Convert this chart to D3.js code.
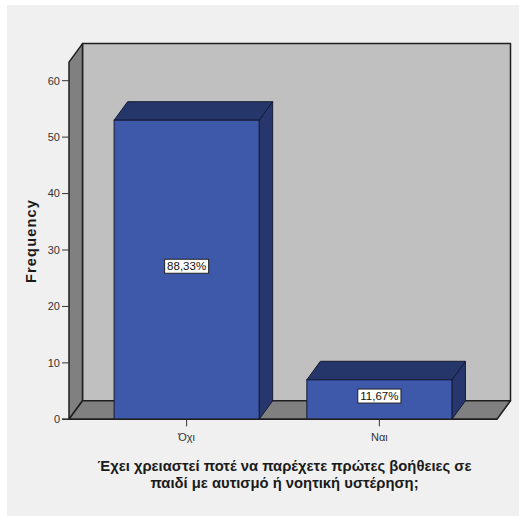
<!DOCTYPE html>
<html>
<head>
<meta charset="utf-8">
<script src="https://cdn.jsdelivr.net/npm/d3@7"></script>
<style>
  html, body { margin: 0; padding: 0; background: #ffffff; }
  svg { display: block; }
</style>
</head>
<body>
<svg id="chart" width="519" height="516"></svg>
<script>
// Frequencies of answers
const categories = ["Όχι", "Ναι"];
const counts = [53, 7];
const percentLabels = ["88,33%", "11,67%"];
const yTicks = [0, 10, 20, 30, 40, 50, 60];
const titleLines = [
  "Έχει χρειαστεί ποτέ να παρέχετε πρώτες βοήθειες σε",
  "παιδί με αυτισμό ή νοητική υστέρηση;"
];
const yLabel = "Frequency";

const svg = d3.select("#chart");
const W = 519, H = 516;

// panel background
svg.append("rect").attr("x", 0).attr("y", 0).attr("width", W).attr("height", H).attr("fill", "#ffffff");
svg.append("rect").attr("x", 7).attr("y", 5).attr("width", W - 7).attr("height", H - 5).attr("fill", "#f0f0f0");

// 3D frame geometry
const frontLeft = 69, frontRight = 497;
const depthX = 13.5, depthY = -18.5;
const wallMax = 63.3;

const y = d3.scaleLinear().domain([0, 60]).range([419.3, 80.7]);
const x = d3.scaleBand().domain(categories).range([frontLeft, frontRight])
  .paddingInner(0.2475).paddingOuter(0.234);

const y0 = y(0), yTop = y(wallMax);
const edge = "#1e1e1e";

// back wall
svg.append("polygon")
  .attr("points", [[frontLeft + depthX, yTop + depthY], [frontRight + depthX, yTop + depthY],
                   [frontRight + depthX, y0 + depthY], [frontLeft + depthX, y0 + depthY]].join(" "))
  .attr("fill", "#c0c0c0").attr("stroke", edge).attr("stroke-width", 1.5).attr("stroke-linejoin", "round");

// left wall
svg.append("polygon")
  .attr("points", [[frontLeft, y0], [frontLeft, yTop], [frontLeft + depthX, yTop + depthY],
                   [frontLeft + depthX, y0 + depthY]].join(" "))
  .attr("fill", "#808080").attr("stroke", edge).attr("stroke-width", 1.5).attr("stroke-linejoin", "round");

// floor
svg.append("polygon")
  .attr("points", [[frontLeft, y0], [frontRight, y0], [frontRight + depthX, y0 + depthY],
                   [frontLeft + depthX, y0 + depthY]].join(" "))
  .attr("fill", "#808080").attr("stroke", edge).attr("stroke-width", 1.5).attr("stroke-linejoin", "round");

// bars
const barFront = "#3e58aa", barTop = "#25366b", barSide = "#27376e";
const barEdge = "#141a33";
const bars = svg.append("g");
categories.forEach((c, i) => {
  const x0 = x(c), x1 = x(c) + x.bandwidth();
  const yv = y(counts[i]);
  const g = bars.append("g");
  // side
  g.append("polygon")
    .attr("points", [[x1, y0], [x1, yv], [x1 + depthX, yv + depthY], [x1 + depthX, y0 + depthY]].join(" "))
    .attr("fill", barSide).attr("stroke", barEdge).attr("stroke-width", 1).attr("stroke-linejoin", "round");
  // top
  g.append("polygon")
    .attr("points", [[x0, yv], [x1, yv], [x1 + depthX, yv + depthY], [x0 + depthX, yv + depthY]].join(" "))
    .attr("fill", barTop).attr("stroke", barEdge).attr("stroke-width", 1).attr("stroke-linejoin", "round");
  // front
  g.append("rect")
    .attr("x", x0).attr("y", yv).attr("width", x.bandwidth()).attr("height", y0 - yv)
    .attr("fill", barFront).attr("stroke", barEdge).attr("stroke-width", 1);
});

// baseline (x axis) extending to the y tick
svg.append("line").attr("x1", 62).attr("x2", frontRight).attr("y1", y0).attr("y2", y0)
  .attr("stroke", edge).attr("stroke-width", 1.5);

// y axis ticks and labels
const yAxis = svg.append("g").attr("font-family", "Liberation Sans, Arial, sans-serif")
  .attr("font-size", 11).attr("fill", "#333");
yTicks.forEach(t => {
  yAxis.append("line").attr("x1", 62).attr("x2", frontLeft).attr("y1", y(t)).attr("y2", y(t))
    .attr("stroke", "#333").attr("stroke-width", 1);
  yAxis.append("text").attr("x", 60).attr("y", y(t)).attr("dy", "0.35em")
    .attr("text-anchor", "end").text(t);
});

// x category ticks and labels
const xAxis = svg.append("g").attr("font-family", "Liberation Sans, Arial, sans-serif")
  .attr("font-size", 11).attr("fill", "#333");
categories.forEach(c => {
  const cx = x(c) + x.bandwidth() / 2;
  xAxis.append("line").attr("x1", cx).attr("x2", cx).attr("y1", y0).attr("y2", y0 + 7)
    .attr("stroke", "#333").attr("stroke-width", 1);
  xAxis.append("text").attr("x", cx).attr("y", y0 + 22).attr("text-anchor", "middle").text(c);
});

// percentage labels
categories.forEach((c, i) => {
  const cx = x(c) + x.bandwidth() / 2;
  const cy = (y(counts[i]) + y0) / 2 - 3.5;
  const g = svg.append("g");
  const txt = g.append("text").attr("x", cx).attr("y", cy).attr("dy", "0.35em")
    .attr("text-anchor", "middle").attr("font-family", "Liberation Sans, Arial, sans-serif")
    .attr("font-size", 11.5).attr("fill", "#111").text(percentLabels[i]);
  const bb = txt.node().getBBox();
  g.insert("rect", "text")
    .attr("x", cx - (bb.width + 5) / 2).attr("y", cy - 7)
    .attr("width", bb.width + 5).attr("height", 14)
    .attr("fill", "#ffffff").attr("stroke", "#222").attr("stroke-width", 1);
});

// y axis title
svg.append("text")
  .attr("transform", `translate(36, 241) rotate(-90)`)
  .attr("text-anchor", "middle")
  .attr("font-family", "Liberation Sans, Arial, sans-serif")
  .attr("font-size", 14.5).attr("font-weight", "bold").attr("letter-spacing", 1.2)
  .attr("fill", "#1a1a1a").text(yLabel);

// x axis title
const title = svg.append("text")
  .attr("text-anchor", "middle")
  .attr("font-family", "Liberation Sans, Arial, sans-serif")
  .attr("font-size", 14.8).attr("font-weight", "bold").attr("fill", "#1a1a1a");
titleLines.forEach((line, i) => {
  title.append("tspan").attr("x", 284.5).attr("y", 470.5 + i * 17).text(line);
});
</script>
</body>
</html>
